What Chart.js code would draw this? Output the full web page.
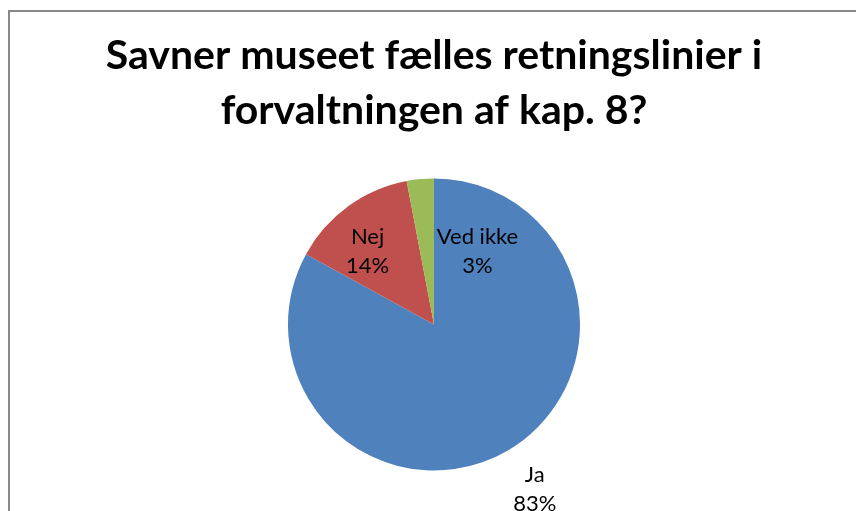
<!DOCTYPE html>
<html>
<head>
<meta charset="utf-8">
<script src="https://cdn.jsdelivr.net/npm/chart.js@4/dist/chart.umd.min.js"></script>
<style>
  html, body { margin: 0; padding: 0; background: #fff; overflow: hidden; }
  #frame { position: absolute; left: 8px; top: 10px; width: 900px; height: 560px;
           border-left: 2px solid #888; border-top: 2px solid #888; box-sizing: border-box; }
  #wrap { position: absolute; left: 0; top: 0; width: 856px; height: 511px; }
</style>
</head>
<body>
<div id="frame"></div>
<div id="wrap"><canvas id="c" width="856" height="511"></canvas></div>
<script>
const titleLines = ["Savner museet fælles retningslinier i", "forvaltningen af kap. 8?"];
const categories = ["Ja", "Nej", "Ved ikke"];
const values = [83, 14, 3];
const percentLabels = ["83%", "14%", "3%"];
const colors = ["#4F81BD", "#C0504D", "#9BBB59"];

// label block centres, as fractions of the pie radius from its centre (layout only)
const labelPlacement = [[0.69, 1.13], [-0.455, -0.50], [0.298, -0.50]];

const labelPlugin = {
  id: 'sliceLabels',
  afterDatasetsDraw(chart) {
    const ctx = chart.ctx;
    const meta = chart.getDatasetMeta(0);
    ctx.save();
    ctx.fillStyle = '#000';
    ctx.font = '22px Lato, "Liberation Sans", sans-serif';
    ctx.textAlign = 'center';
    ctx.textBaseline = 'middle';
    const lh = 29.5;
    meta.data.forEach((arc, i) => {
      const p = arc.getProps(['x', 'y', 'outerRadius'], true);
      const cx = p.x + labelPlacement[i][0] * p.outerRadius;
      const cy = p.y + labelPlacement[i][1] * p.outerRadius;
      ctx.fillText(categories[i], cx, cy - lh / 2);
      ctx.fillText(percentLabels[i], cx, cy + lh / 2);
    });
    ctx.restore();
  }
};

new Chart(document.getElementById('c'), {
  type: 'pie',
  data: {
    labels: categories,
    datasets: [{
      data: values,
      backgroundColor: colors,
      borderWidth: 0,
      hoverOffset: 0
    }]
  },
  options: {
    responsive: false,
    animation: false,
    events: [],
    layout: { padding: { left: 12, right: 0, top: 0, bottom: 40.5 } },
    plugins: {
      legend: { display: false },
      tooltip: { enabled: false },
      title: {
        display: true,
        text: titleLines,
        color: '#000',
        font: { family: 'Lato, "Liberation Sans", sans-serif', size: 41, weight: 'bold', lineHeight: 1.341 },
        padding: { top: 28.5, bottom: 40 }
      }
    }
  },
  plugins: [labelPlugin]
});
</script>
</body>
</html>
